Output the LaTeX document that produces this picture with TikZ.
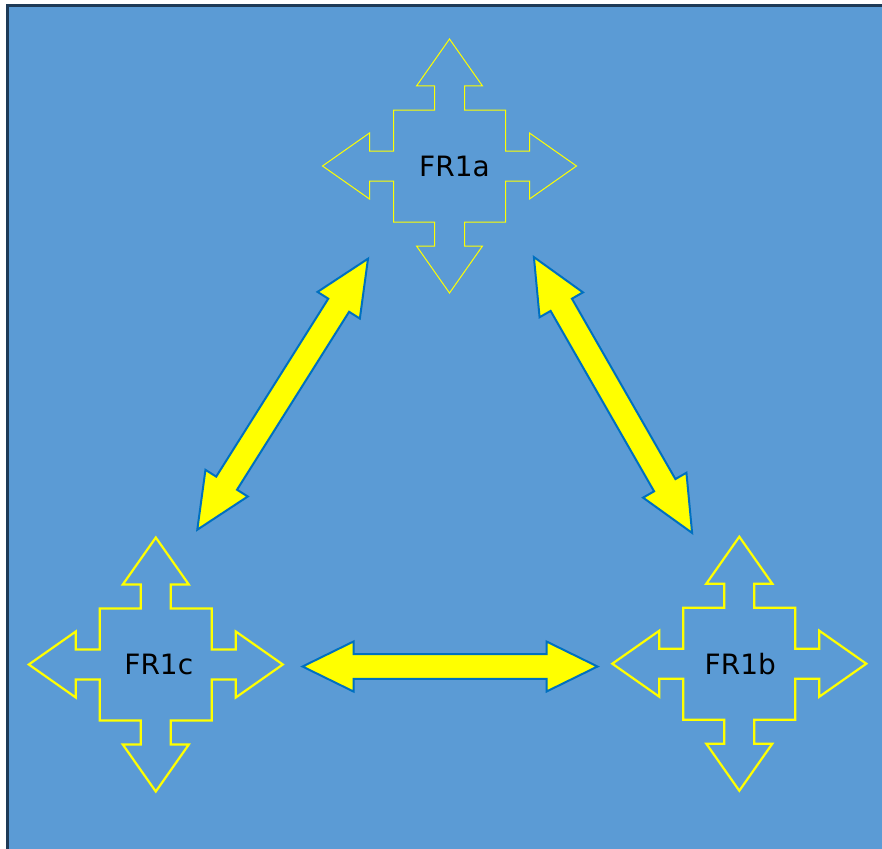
\documentclass[tikz,border=0pt]{standalone}
\usepackage{fontspec}
\setmainfont{DejaVu Sans}
\usetikzlibrary{calc}

\definecolor{slideblue}{HTML}{5B9BD5}
\definecolor{slideedge}{HTML}{1E3A57}
\definecolor{arrowedge}{HTML}{0070C0}
\definecolor{fryellow}{RGB}{255,255,0}

% outline of a four-way arrow, centred on (0,0)
\newcommand\quadpath{(56,-56) -- (56,-15) -- (80,-15) -- (80,-33) -- (127,0) -- (80,33) -- (80,15) -- (56,15) -- (56,56)
	-- (15,56) -- (15,80) -- (33,80) -- (0,127) -- (-33,80) -- (-15,80) -- (-15,56) -- (-56,56)
	-- (-56,15) -- (-80,15) -- (-80,33) -- (-127,0) -- (-80,-33) -- (-80,-15) -- (-56,-15) -- (-56,-56)
	-- (-15,-56) -- (-15,-80) -- (-33,-80) -- (0,-127) -- (33,-80) -- (15,-80) -- (15,-56) -- cycle}

\tikzset{
	frtext/.style={font=\fontsize{28}{28}\selectfont, text=black, inner sep=0pt},
	quadthin/.style={draw=fryellow, line width=1pt, line join=miter},
	quadthick/.style={draw=fryellow, line width=2.2pt, line join=miter},
	% #1 = half width of the shaft, #2 = length of a head
	fatarrow/.style args={#1/#2}{fill=fryellow, draw=arrowedge, line width=2pt, line join=miter,
		to path={
			-- ($(\tikztostart)!#2!(\tikztotarget)!25pt!90:(\tikztotarget)$)
			-- ($(\tikztostart)!#2!(\tikztotarget)!#1!90:(\tikztotarget)$)
			-- ($(\tikztotarget)!#2!(\tikztostart)!#1!-90:(\tikztostart)$)
			-- ($(\tikztotarget)!#2!(\tikztostart)!25pt!-90:(\tikztostart)$)
			-- (\tikztotarget)
			-- ($(\tikztotarget)!#2!(\tikztostart)!25pt!90:(\tikztostart)$)
			-- ($(\tikztotarget)!#2!(\tikztostart)!#1!90:(\tikztostart)$)
			-- ($(\tikztostart)!#2!(\tikztotarget)!#1!-90:(\tikztotarget)$)
			-- ($(\tikztostart)!#2!(\tikztotarget)!25pt!-90:(\tikztotarget)$)
			-- cycle}},
	fatarrow/.default=12.3pt/51pt
}

\begin{document}
\begin{tikzpicture}[x=1pt, y=-1pt]
	% slide background
	\useasboundingbox[fill=white] (0,0) rectangle (882,848);
	\draw[slideedge, line width=3pt, fill=slideblue] (7.2,5.6) rectangle (900,870);

	% centres of the three four-way arrows
	\coordinate (qa) at (449.5,166);
	\coordinate (qb) at (739.3,663.7);
	\coordinate (qc) at (155.8,664.5);

	\draw[quadthin, shift={(qa)}] \quadpath;
	\draw[quadthick, shift={(qb)}] \quadpath;
	\draw[quadthick, shift={(qc)}] \quadpath;

	\node[frtext] (fr1a) at ([xshift=5pt]qa) {FR1a};
	\node[frtext] (fr1b) at ([xshift=1pt]qb) {FR1b};
	\node[frtext] (fr1c) at ([xshift=3pt]qc) {FR1c};

	% ends of the double arrows
	\coordinate (ac) at (368,258.7);
	\coordinate (ca) at (197.3,529.7);
	\coordinate (ab) at (533.9,257.1);
	\coordinate (ba) at (692.1,532.9);
	\coordinate (cb) at (302.5,666.5);
	\coordinate (bc) at (597.5,666.5);

	\draw[fatarrow=12.3pt/55pt] (ac) to (ca);
	\draw[fatarrow=12.3pt/55pt] (ab) to (ba);
	\draw[fatarrow] (cb) to (bc);
\end{tikzpicture}
\end{document}
